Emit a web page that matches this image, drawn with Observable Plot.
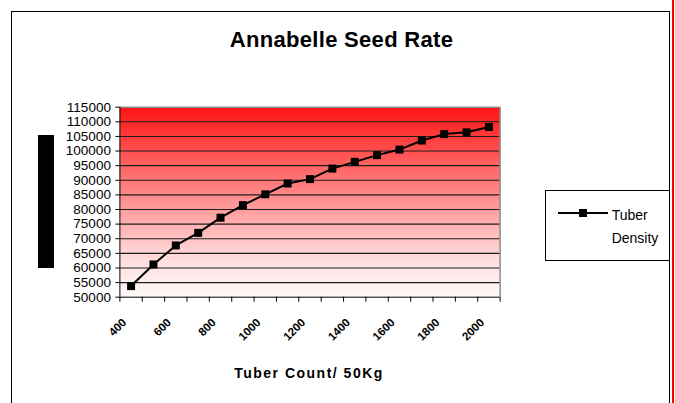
<!DOCTYPE html>
<html>
<head>
<meta charset="utf-8">
<script src="https://cdn.jsdelivr.net/npm/d3@7"></script>
<script src="https://cdn.jsdelivr.net/npm/@observablehq/plot@0.6"></script>
<style>
  html, body { margin: 0; padding: 0; background: #fff; }
  #wrap { position: relative; width: 675px; height: 403px; overflow: hidden; font-family: "Liberation Sans", Arial, sans-serif; color: #000; }
  #wrap svg { position: absolute; left: 0; top: 0; }
  #border { position: absolute; left: 11px; top: 11px; width: 659px; height: 520px; border: 1px solid #000; box-sizing: border-box; }
  #redline { position: absolute; left: 672px; top: 0; width: 2px; height: 403px; background: #ff0000; }
  #title { position: absolute; left: 341.5px; top: 29.4px; transform: translateX(-50%); white-space: nowrap; font-size: 22px; line-height: 22px; font-weight: bold; letter-spacing: 0.3px; }
  #ybar { position: absolute; left: 38px; top: 135px; width: 16px; height: 133px; background: #000; }
  #xtitle { position: absolute; left: 309px; top: 366.1px; transform: translateX(-50%); white-space: nowrap; font-size: 14px; line-height: 14px; font-weight: bold; letter-spacing: 1.5px; }
  #legend { position: absolute; left: 545px; top: 190px; width: 125px; height: 71px; border: 1px solid #000; box-sizing: border-box; background: #fff; }
  #legline { position: absolute; left: 558px; top: 212px; width: 50px; height: 2px; background: #000; }
  #legsq { position: absolute; left: 578.5px; top: 208.7px; width: 8px; height: 8px; background: #000; }
  #legtext { position: absolute; left: 611.7px; top: 203.6px; font-size: 14px; line-height: 23px; white-space: nowrap; }
</style>
</head>
<body>
<div id="wrap">
  <div id="border"></div>
  <div id="redline"></div>
  <div id="title">Annabelle Seed Rate</div>
  <div id="ybar"></div>
  <div id="xtitle">Tuber Count/ 50Kg</div>
  <div id="legend"></div>
  <div id="legline"></div>
  <div id="legsq"></div>
  <div id="legtext">Tuber<br>Density</div>
</div>
<script>
// Data
const tuberCount = [400, 500, 600, 700, 800, 900, 1000, 1100, 1200, 1300, 1400, 1500, 1600, 1700, 1800, 1900, 2000];
const tuberDensity = [53800, 61200, 67700, 72000, 77200, 81500, 85200, 88900, 90400, 94000, 96300, 98600, 100500, 103600, 105800, 106400, 108200];
const yTicks = [50000, 55000, 60000, 65000, 70000, 75000, 80000, 85000, 90000, 95000, 100000, 105000, 110000, 115000];
const xLabelTicks = [400, 600, 800, 1000, 1200, 1400, 1600, 1800, 2000];
const xDomain = [350, 2050];
const yDomain = [50000, 115000];

const rows = tuberCount.map((c, i) => ({count: c, density: tuberDensity[i]}));
// category boundaries (tick marks between categories)
const xBoundaries = tuberCount.map(c => c - 50).concat([tuberCount[tuberCount.length - 1] + 50]);
const gridValues = yTicks.filter(v => v > yDomain[0] && v < yDomain[1]);

const svg = Plot.plot({
  width: 675,
  height: 403,
  marginLeft: 119.4,
  marginRight: 175.4,
  marginTop: 106.7,
  marginBottom: 106.3,
  style: { fontFamily: "'Liberation Sans', Arial, sans-serif", fontSize: "13.5px", color: "#000", background: "transparent", overflow: "visible" },
  x: { type: "linear", domain: xDomain },
  y: { type: "linear", domain: yDomain },
  marks: [
    Plot.frame({ fill: "url(#bgGrad)", stroke: "none" }),
    Plot.ruleY(gridValues, { stroke: "#1c1c1c", strokeWidth: 1.1 }),
    Plot.ruleY([yDomain[1]], { stroke: "#8c8c8c", strokeWidth: 1.5 }),
    Plot.ruleX([xDomain[1]], { stroke: "#8c8c8c", strokeWidth: 1.5 }),
    Plot.ruleX([xDomain[0]], { stroke: "#000", strokeWidth: 1 }),
    Plot.ruleY([yDomain[0]], { stroke: "#000", strokeWidth: 1 }),
    Plot.axisY({ ticks: yTicks, tickSize: 4, tickPadding: 5, tickFormat: d => String(d), label: null, fontSize: 13.5 }),
    Plot.axisX({ ticks: xBoundaries, tickSize: 5, tickFormat: () => "", label: null }),
    Plot.text(xLabelTicks, { x: d => d, frameAnchor: "bottom", dy: 26, dx: -4, rotate: -45, textAnchor: "end", lineAnchor: "bottom", fontSize: 11.5, fontWeight: "bold", text: d => String(d) }),
    Plot.line(rows, { x: "count", y: "density", stroke: "#000", strokeWidth: 2 }),
    Plot.dot(rows, { x: "count", y: "density", symbol: "square", r: 4.5, fill: "#000", stroke: "none" })
  ]
});

d3.select(svg).insert("defs", ":first-child").html(
  '<linearGradient id="bgGrad" x1="0" y1="0" x2="0" y2="1">' +
  '<stop offset="0" stop-color="#ff1414"/>' +
  '<stop offset="0.5" stop-color="#ff9494"/>' +
  '<stop offset="0.8" stop-color="#ffdddd"/>' +
  '<stop offset="1" stop-color="#fffafa"/>' +
  '</linearGradient>'
);

const wrap = document.getElementById("wrap");
wrap.insertBefore(svg, document.getElementById("title"));
</script>
</body>
</html>
